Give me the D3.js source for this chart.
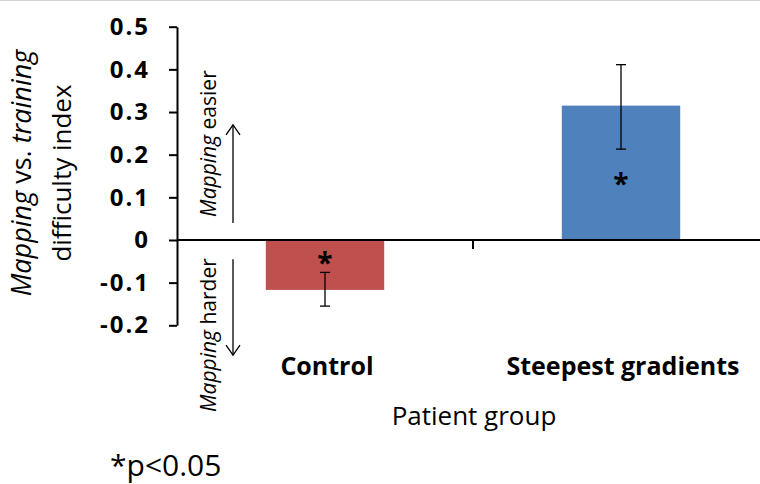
<!DOCTYPE html>
<html>
<head>
<meta charset="utf-8">
<script src="https://cdn.jsdelivr.net/npm/d3@7"></script>
<style>
  html, body { margin: 0; padding: 0; background: #fff; }
  svg { display: block; }
  text { font-family: "Open Sans", "Noto Sans", sans-serif; fill: #000; }
</style>
</head>
<body>
<svg id="chart" width="760" height="484"></svg>
<script>
// ---- data ----
const categories = ["Control", "Steepest gradients"];
const means = [-0.117, 0.315];
const errLow = [-0.155, 0.213];
const errHigh = [-0.076, 0.411];
const barColors = ["#C0504D", "#4F81BD"];
const starValues = [-0.045, 0.14];
const yTicks = [-0.2, -0.1, 0, 0.1, 0.2, 0.3, 0.4, 0.5];
const yTickLabels = ["-0.2", "-0.1", "0", "0.1", "0.2", "0.3", "0.4", "0.5"];
const xTitle = "Patient group";
const footnote = "*p<0.05";

// ---- layout ----
const svg = d3.select("#chart");
const W = 760, H = 484;
const plotLeft = 177, plotRight = 769;

svg.append("line")
  .attr("x1", 0).attr("x2", W).attr("y1", 0.5).attr("y2", 0.5)
  .attr("stroke", "#d4d4d4").attr("stroke-width", 1);

const y = d3.scaleLinear().domain([-0.2, 0.5]).range([325.3, 26.7]);
const x = d3.scaleBand().domain(categories).range([plotLeft, plotRight]).padding(0);
const barW = x.bandwidth() * 0.4;

const data = categories.map((c, i) => ({
  cat: c, mean: means[i], lo: errLow[i], hi: errHigh[i], color: barColors[i], star: starValues[i]
}));

// bars
svg.append("g").selectAll("rect").data(data).join("rect")
  .attr("x", d => x(d.cat) + x.bandwidth() / 2 - barW / 2)
  .attr("width", barW)
  .attr("y", d => y(Math.max(0, d.mean)))
  .attr("height", d => Math.abs(y(d.mean) - y(0)))
  .attr("fill", d => d.color);

// error bars
const eb = svg.append("g").attr("stroke", "#000").attr("stroke-width", 1.3);
data.forEach(d => {
  const cx = x(d.cat) + x.bandwidth() / 2;
  eb.append("line").attr("x1", cx).attr("x2", cx).attr("y1", y(d.lo)).attr("y2", y(d.hi));
  eb.append("line").attr("x1", cx - 5).attr("x2", cx + 5).attr("y1", y(d.lo)).attr("y2", y(d.lo));
  eb.append("line").attr("x1", cx - 5).attr("x2", cx + 5).attr("y1", y(d.hi)).attr("y2", y(d.hi));
});

// significance stars
svg.append("g").selectAll("text").data(data).join("text")
  .attr("x", d => x(d.cat) + x.bandwidth() / 2)
  .attr("y", d => y(d.star) + 14)
  .attr("text-anchor", "middle")
  .attr("font-size", 28).attr("font-weight", "bold")
  .text("*");

// y axis
const yAxis = d3.axisLeft(y).tickValues(yTicks).tickSize(8).tickSizeOuter(0)
  .tickFormat((d, i) => yTickLabels[i]).tickPadding(19);
const gy = svg.append("g").attr("transform", `translate(${plotLeft},0)`).call(yAxis);
gy.select(".domain").attr("stroke", "#000").attr("stroke-width", 2);
gy.selectAll(".tick line").attr("stroke", "#000").attr("stroke-width", 2);
gy.selectAll(".tick text")
  .attr("font-family", "'Open Sans', sans-serif")
  .attr("font-size", 24).attr("font-weight", "bold")
  .attr("letter-spacing", "2px")
  .attr("fill", "#000");

// zero line (x axis) and category separator tick
svg.append("line")
  .attr("x1", plotLeft).attr("x2", plotRight)
  .attr("y1", y(0)).attr("y2", y(0))
  .attr("stroke", "#000").attr("stroke-width", 2);
svg.append("line")
  .attr("x1", x(categories[1])).attr("x2", x(categories[1]))
  .attr("y1", y(0)).attr("y2", y(0) + 9)
  .attr("stroke", "#000").attr("stroke-width", 2);

// category labels
svg.append("g").selectAll("text").data(categories).join("text")
  .attr("x", d => x(d) + x.bandwidth() / 2 + 2)
  .attr("y", 375)
  .attr("text-anchor", "middle")
  .attr("font-size", 25).attr("font-weight", "bold")
  .text(d => d);

// x title
svg.append("text")
  .attr("x", (plotLeft + plotRight) / 2 + 1).attr("y", 425)
  .attr("text-anchor", "middle").attr("font-size", 26)
  .text(xTitle);

// y title (two lines, rotated)
const yt = svg.append("g").attr("transform", "translate(0,173) rotate(-90)");
const l1 = yt.append("text").attr("x", 0).attr("y", 31).attr("text-anchor", "middle").attr("font-size", 27);
l1.append("tspan").attr("font-style", "italic").text("Mapping");
l1.append("tspan").text(" vs. ");
l1.append("tspan").attr("font-style", "italic").text("training");
yt.append("text").attr("x", 0).attr("y", 71).attr("text-anchor", "middle").attr("font-size", 26)
  .text("difficulty index");

// direction annotations
function annot(centerVal, word) {
  const g = svg.append("g").attr("transform", `translate(0,${y(centerVal)}) rotate(-90)`);
  const t = g.append("text").attr("x", 0).attr("y", 216).attr("text-anchor", "middle").attr("font-size", 21);
  t.append("tspan").attr("font-style", "italic").text("Mapping");
  t.append("tspan").text(" " + word);
}
annot(0.226, "easier");
annot(-0.223, "harder");

const ax = 233;
const arr = svg.append("g").attr("stroke", "#000").attr("stroke-width", 1.3).attr("fill", "none");
// up arrow
arr.append("line").attr("x1", ax).attr("x2", ax).attr("y1", y(0.04)).attr("y2", y(0.27));
arr.append("path").attr("d", `M${ax - 7},${y(0.27) + 10} L${ax},${y(0.27)} L${ax + 7},${y(0.27) + 10}`);
// down arrow
arr.append("line").attr("x1", ax).attr("x2", ax).attr("y1", y(-0.045)).attr("y2", y(-0.27));
arr.append("path").attr("d", `M${ax - 7},${y(-0.27) - 10} L${ax},${y(-0.27)} L${ax + 7},${y(-0.27) - 10}`);

// footnote
svg.append("text").attr("x", 110).attr("y", 476).attr("font-size", 30).text(footnote);
</script>
</body>
</html>
